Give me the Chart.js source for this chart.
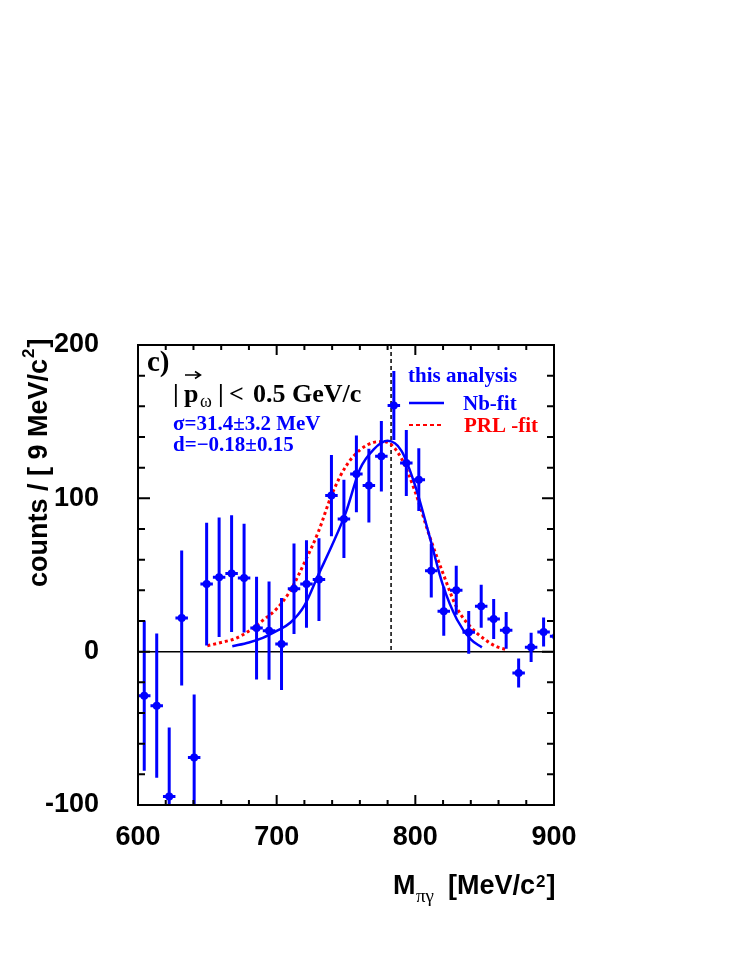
<!DOCTYPE html>
<html>
<head>
<meta charset="utf-8">
<script src="https://cdn.jsdelivr.net/npm/chart.js@4/dist/chart.umd.min.js"></script>
<style>
html,body{margin:0;padding:0;background:#fff;}
#wrap{width:749px;height:969px;position:relative;}
</style>
</head>
<body>
<div id="wrap"><canvas id="chart" width="749" height="969"></canvas></div>
<script>
// ---- data ----
const massBins = [604.5,613.5,622.5,631.5,640.5,649.5,658.5,667.5,676.5,685.5,694.5,703.5,712.5,721.5,730.5,739.5,748.5,757.5,766.5,775.5,784.5,793.5,802.5,811.5,820.5,829.5,838.5,847.5,856.5,865.5,874.5,883.5,892.5,901.5];
const counts = [-28.7,-35.2,-94.4,22,-69,44.1,48.5,50.9,48,15.4,13.7,5,41,44.1,47,101.8,86.6,115.9,108.3,127.4,160.5,123,112.2,52.8,26.3,40,12.6,29.6,21.3,13.9,-13.9,2.8,12.8,10];
const countErrors = [49,47,45,44,41,40,39,38,35.5,33.5,32,30,29.5,28.5,27,26.5,25.5,25,24,23,22.5,21.5,20.5,17.5,16,16,14,14,13,12,9.5,9.5,9.5,9];
const binHalfWidth = 4.5;

const nbFitMass   = [668,680,690,700,710,720,730,740,750,760,770,780,790,800,810,820,830,840,848];
const nbFitCounts = [3.5,6,9,13.5,19,30,50,69.5,91,119,132,137.5,131,108,76,43,21,8,2.8];

const prlFitMass   = [650,660,670,680,690,700,710,720,730,740,750,760,770,776,780,790,800,810,820,830,840,850,858,866];
const prlFitCounts = [3.9,6,8.5,13.5,20.4,28,40,58,78,103,121,131.5,136.5,137,136.5,126,104,76,51,28.5,16,8,3.5,1.3];

const omegaMass = 782.5;
const xRange = [600, 900];
const yRange = [-100, 200];
const majorStep = 100;
const minorStep = 20;

const BLUE = '#0000ff', RED = '#ff0000';
const SANS = "'Liberation Sans', Arial, sans-serif";
const SERIF = "'Liberation Serif', 'Times New Roman', serif";

const points = massBins.map((m, i) => ({x: m, y: counts[i]}));
const nbFit = nbFitMass.map((m, i) => ({x: m, y: nbFitCounts[i]}));
const prlFit = prlFitMass.map((m, i) => ({x: m, y: prlFitCounts[i]}));

const rootStyle = {
  id: 'rootStyle',
  beforeDatasetsDraw(chart) {
    const {ctx, chartArea: a, scales: {x, y}} = chart;
    ctx.save();
    const y0 = y.getPixelForValue(0);
    ctx.strokeStyle = '#000';
    ctx.lineWidth = 1.5;
    ctx.beginPath(); ctx.moveTo(a.left, y0); ctx.lineTo(a.right, y0); ctx.stroke();
    const xo = x.getPixelForValue(omegaMass);
    ctx.setLineDash([4, 3]);
    ctx.beginPath(); ctx.moveTo(xo, a.top); ctx.lineTo(xo, y0); ctx.stroke();
    ctx.restore();
  },
  afterDatasetsDraw(chart) {
    const {ctx, chartArea: a, scales: {x, y}} = chart;
    ctx.save();
    ctx.beginPath(); ctx.rect(a.left, a.top, a.right - a.left, a.bottom - a.top); ctx.clip();
    ctx.strokeStyle = BLUE; ctx.lineWidth = 3;
    massBins.forEach((m, i) => {
      const px = x.getPixelForValue(m);
      const py = y.getPixelForValue(counts[i]);
      const top = y.getPixelForValue(counts[i] + countErrors[i]);
      const bot = y.getPixelForValue(counts[i] - countErrors[i]);
      const l = x.getPixelForValue(m - binHalfWidth);
      const r = x.getPixelForValue(m + binHalfWidth);
      ctx.beginPath();
      ctx.moveTo(px, top); ctx.lineTo(px, bot);
      ctx.moveTo(l, py); ctx.lineTo(r, py);
      ctx.stroke();
    });
    ctx.restore();
  },
  afterDraw(chart) {
    const {ctx, chartArea: a, scales: {x, y}} = chart;
    ctx.save();
    // frame
    ctx.strokeStyle = '#000'; ctx.lineWidth = 2;
    ctx.strokeRect(a.left, a.top, a.right - a.left, a.bottom - a.top);
    // ticks (inside)
    ctx.beginPath();
    for (let v = xRange[0]; v <= xRange[1]; v += minorStep) {
      const px = x.getPixelForValue(v);
      const len = (v % majorStep === 0) ? 10 : 5;
      ctx.moveTo(px, a.bottom); ctx.lineTo(px, a.bottom - len);
      ctx.moveTo(px, a.top); ctx.lineTo(px, a.top + len);
    }
    for (let v = yRange[0]; v <= yRange[1]; v += minorStep) {
      const py = y.getPixelForValue(v);
      const len = (v % majorStep === 0) ? 12 : 7;
      ctx.moveTo(a.left, py); ctx.lineTo(a.left + len, py);
      ctx.moveTo(a.right, py); ctx.lineTo(a.right - len, py);
    }
    ctx.stroke();

    ctx.textAlign = 'left';
    ctx.textBaseline = 'alphabetic';
    // x-axis title: M_{pi gamma} [MeV/c^2]
    ctx.fillStyle = '#000';
    ctx.font = 'bold 27px ' + SANS;
    ctx.fillText('M', 393, 894);
    ctx.font = '19px ' + SERIF;
    ctx.fillText('\u03c0\u03b3', 416, 902);
    ctx.font = 'bold 27px ' + SANS;
    let cx = 448;
    ctx.fillText('[MeV/c', cx, 894); cx += ctx.measureText('[MeV/c').width + 1;
    ctx.font = 'bold 17px ' + SANS;
    ctx.fillText('2', cx, 887); cx += ctx.measureText('2').width + 1;
    ctx.font = 'bold 27px ' + SANS;
    ctx.fillText(']', cx, 894);

    // y-axis title (rotated)
    ctx.save();
    ctx.translate(47, 587);
    ctx.rotate(-Math.PI / 2);
    ctx.font = 'bold 27px ' + SANS;
    let ty = 0;
    ctx.fillText('counts / [ 9 MeV/c', ty, 0); ty += ctx.measureText('counts / [ 9 MeV/c').width + 1;
    ctx.font = 'bold 17px ' + SANS;
    ctx.fillText('2', ty, -13); ty += ctx.measureText('2').width + 1;
    ctx.font = 'bold 27px ' + SANS;
    ctx.fillText(']', ty, 0);
    ctx.restore();

    // panel label
    ctx.font = 'bold 29px ' + SERIF;
    ctx.fillText('c)', 147, 371);

    // momentum cut
    ctx.font = 'bold 26px ' + SERIF;
    ctx.fillText('|', 173, 402);
    ctx.fillText('p', 184, 402);
    // vector arrow over p
    ctx.lineWidth = 1.5; ctx.strokeStyle = '#000';
    ctx.beginPath();
    ctx.moveTo(185, 375); ctx.lineTo(200, 375);
    ctx.moveTo(195, 371.5); ctx.lineTo(200.5, 375); ctx.lineTo(195, 378.5);
    ctx.stroke();
    ctx.font = '18px ' + SERIF;
    ctx.fillText('\u03c9', 200, 407);
    ctx.font = 'bold 26px ' + SERIF;
    ctx.fillText('|', 218, 402);
    ctx.fillText('<', 229, 402);
    ctx.fillText('0.5 GeV/c', 253, 402);

    // fit parameters
    ctx.fillStyle = BLUE;
    ctx.font = 'bold 21px ' + SERIF;
    ctx.fillText('\u03c3=31.4\u00b13.2 MeV', 173, 430);
    ctx.fillText('d=\u22120.18\u00b10.15', 173, 451);

    // legend
    ctx.fillText('this analysis', 408, 382);
    ctx.fillText('Nb-fit', 463, 410);
    ctx.strokeStyle = BLUE; ctx.lineWidth = 2.5;
    ctx.beginPath(); ctx.moveTo(409, 403); ctx.lineTo(444, 403); ctx.stroke();
    ctx.strokeStyle = RED; ctx.lineWidth = 2;
    ctx.setLineDash([4, 3]);
    ctx.beginPath(); ctx.moveTo(409, 425); ctx.lineTo(444, 425); ctx.stroke();
    ctx.setLineDash([]);
    ctx.fillStyle = RED;
    ctx.fillText('PRL -fit', 464, 432);
    ctx.restore();
  }
};

new Chart(document.getElementById('chart'), {
  type: 'scatter',
  data: {
    datasets: [
      {
        label: 'data',
        data: points,
        pointRadius: 4,
        pointStyle: 'circle',
        backgroundColor: BLUE,
        borderColor: BLUE,
        borderWidth: 0,
        showLine: false,
        order: 0
      },
      {
        label: 'Nb-fit',
        data: nbFit,
        showLine: true,
        borderColor: BLUE,
        borderWidth: 2.5,
        pointRadius: 0,
        cubicInterpolationMode: 'monotone',
        fill: false,
        order: 1
      },
      {
        label: 'PRL -fit',
        data: prlFit,
        showLine: true,
        borderColor: RED,
        borderWidth: 3,
        borderDash: [3, 3],
        pointRadius: 0,
        cubicInterpolationMode: 'monotone',
        fill: false,
        order: 2
      }
    ]
  },
  options: {
    responsive: false,
    animation: false,
    devicePixelRatio: 1,
    layout: {padding: {left: 0, top: 345, right: 195, bottom: 0}},
    plugins: {legend: {display: false}, tooltip: {enabled: false}, title: {display: false}},
    scales: {
      x: {
        type: 'linear',
        min: xRange[0], max: xRange[1],
        grid: {display: false, drawTicks: false},
        border: {display: false},
        ticks: {stepSize: majorStep, color: '#000', padding: 16, maxRotation: 0,
                font: {family: SANS, size: 27, weight: 'bold'}},
        afterFit(scale) { scale.height = 164; }
      },
      y: {
        type: 'linear',
        min: yRange[0], max: yRange[1],
        grid: {display: false, drawTicks: false},
        border: {display: false},
        ticks: {stepSize: majorStep, color: '#000', padding: 39,
                font: {family: SANS, size: 27, weight: 'bold'}},
        afterFit(scale) { scale.width = 138; }
      }
    }
  },
  plugins: [rootStyle]
});
</script>
</body>
</html>
